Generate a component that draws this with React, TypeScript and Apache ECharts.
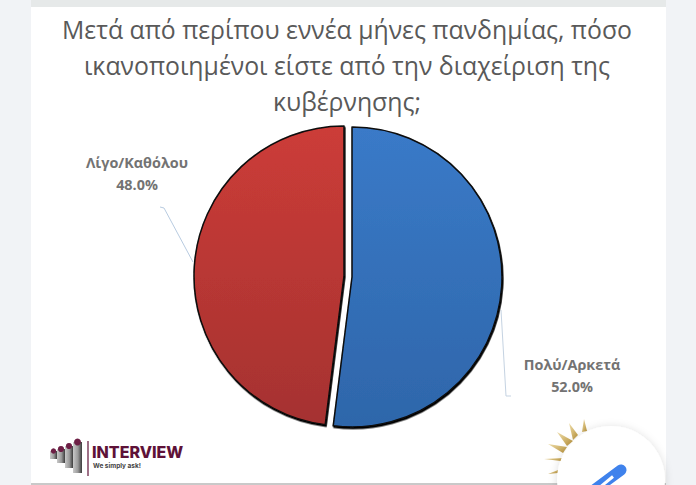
import React, { useEffect, useRef } from "react";
import * as echarts from "echarts";

const titleLines = [
  "Μετά από περίπου εννέα μήνες πανδημίας, πόσο",
  "ικανοποιημένοι είστε από την διαχείριση της",
  "κυβέρνησης;",
];
const categories = ["Πολύ/Αρκετά", "Λίγο/Καθόλου"];
const values = [52.0, 48.0];

const grad = (a: string, b: string) =>
  new echarts.graphic.LinearGradient(0, 0, 0, 1, [
    { offset: 0, color: a },
    { offset: 1, color: b },
  ]);

const hidden = {
  itemStyle: { color: "transparent", borderWidth: 0, shadowBlur: 0, shadowColor: "transparent" },
  label: { show: false },
  labelLine: { show: false },
  emphasis: { disabled: true },
};

const sliceLabel = {
  show: true,
  position: "outside",
  formatter: (p: any) => `${p.name}\n${p.value.toFixed(1)}%`,
  color: "#737373",
  fontSize: 14.4,
  fontWeight: "bold",
  fontFamily: "Open Sans",
  lineHeight: 22,
  align: "center",
};

const rays = [
  [[584, 419], [582, 432], [587, 431]],
  [[569, 423], [573, 440], [578, 435]],
  [[557, 432], [567, 446], [573, 441]],
  [[548, 444], [563, 453], [567, 447]],
  [[544, 459], [561, 461], [562, 458]],
  [[548, 474], [558, 470], [558, 473]],
];

const pillars = [
  [50, 451, 7, 8],
  [57, 449, 8, 14],
  [65, 446, 8, 22],
  [73, 442, 9, 31],
];

export default function App() {
  const ref = useRef<HTMLDivElement>(null);
  useEffect(() => {
    const chart = echarts.init(ref.current!, null, { renderer: "svg" });
    const pie = (i: number, center: number[], colors: string[], lx: number, ly: number) => ({
      type: "pie",
      silent: true,
      center,
      radius: [0, 150],
      startAngle: 90,
      clockwise: true,
      z: 5,
      labelLine: { show: false },
      labelLayout: { x: lx, y: ly, align: "center", verticalAlign: "middle" },
      data: categories.map((name, j) =>
        j === i
          ? {
              name,
              value: values[j],
              itemStyle: {
                color: grad(colors[0], colors[1]),
                borderColor: "#0a0a0a",
                borderWidth: 1.5,
                shadowColor: "#000000",
                shadowBlur: 0,
                shadowOffsetX: 0.8,
                shadowOffsetY: 1.5,
              },
              label: sliceLabel,
            }
          : { name, value: values[j], ...hidden }
      ),
    });
    chart.setOption({
      animation: false,
      backgroundColor: "#f1f3f6",
      title: {
        text: titleLines.join("\n"),
        left: 342,
        top: 6,
        textAlign: "center",
        textStyle: { color: "#595959", fontSize: 24.8, fontWeight: "normal", fontFamily: "Open Sans", lineHeight: 36 },
      },
      series: [
        pie(0, [352, 277], ["#3a7ac8", "#2e66aa"], 572, 375),
        pie(1, [344, 276], ["#cc3c38", "#a53230"], 137, 173),
      ],
      graphic: [
        { type: "rect", z: 0, shape: { x: 31, y: 0, width: 635, height: 7 }, style: { fill: "#e6e9e9" } },
        { type: "rect", z: 0, shape: { x: 31, y: 7, width: 635, height: 476 }, style: { fill: "#ffffff" } },
        { type: "rect", z: 0, shape: { x: 31, y: 483, width: 635, height: 2 }, style: { fill: "#c9c9c9" } },
        { type: "polyline", z: 1, shape: { points: [[160, 207], [164, 208], [193, 262]] }, style: { stroke: "#b8cbe0", fill: "none", lineWidth: 1 } },
        { type: "polyline", z: 1, shape: { points: [[501, 310], [506, 396], [511, 396]] }, style: { stroke: "#c5d3e2", fill: "none", lineWidth: 1 } },
        ...rays.map((points) => ({
          type: "polygon",
          z: 6,
          shape: { points },
          style: { fill: new echarts.graphic.LinearGradient(0, 0, 1, 1, [{ offset: 0, color: "#eeddaa" }, { offset: 1, color: "#b8923a" }]) },
        })),
        {
          type: "circle",
          z: 7,
          shape: { cx: 611, cy: 480, r: 54 },
          style: { fill: "#ffffff", shadowBlur: 8, shadowColor: "rgba(0,0,0,0.14)", shadowOffsetY: 1 },
        },
        { type: "line", z: 8, shape: { x1: 621, y1: 470, x2: 594, y2: 490 }, style: { stroke: "#3f82ec", lineWidth: 11, lineCap: "round" } },
        { type: "line", z: 9, shape: { x1: 613, y1: 476.5, x2: 599, y2: 488 }, style: { stroke: "#ffffff", lineWidth: 3 } },
        ...pillars.flatMap(([x, y, w, h]) => [
          {
            type: "rect", z: 2, shape: { x, y, width: w, height: h },
            style: { fill: new echarts.graphic.LinearGradient(0, 0, 1, 0, [{ offset: 0, color: "#c9c9c9" }, { offset: 0.55, color: "#9a9a9a" }, { offset: 1, color: "#3c3c3c" }]) },
          },
          { type: "circle", z: 3, shape: { cx: x + w / 2, cy: y, r: w / 2.6 }, style: { fill: "#6d1f45" } },
        ]),
        { type: "line", z: 3, shape: { x1: 88, y1: 441, x2: 88, y2: 476 }, style: { stroke: "#5e1238", lineWidth: 1.2 } },
        { type: "text", z: 3, style: { x: 92, y: 452, text: "INTERVIEW", fill: "#5e1238", fontSize: 16, fontWeight: 800, fontFamily: "Inter", textVerticalAlign: "middle" } },
        { type: "text", z: 3, style: { x: 93, y: 466, text: "We simply ask!", fill: "#444444", fontSize: 6.5, fontWeight: "bold", fontFamily: "Inter", textVerticalAlign: "middle" } },
      ],
    });
    return () => chart.dispose();
  }, []);
  return <div ref={ref} style={{ position: "fixed", left: 0, top: 0, width: 696, height: 485 }} />;
}
